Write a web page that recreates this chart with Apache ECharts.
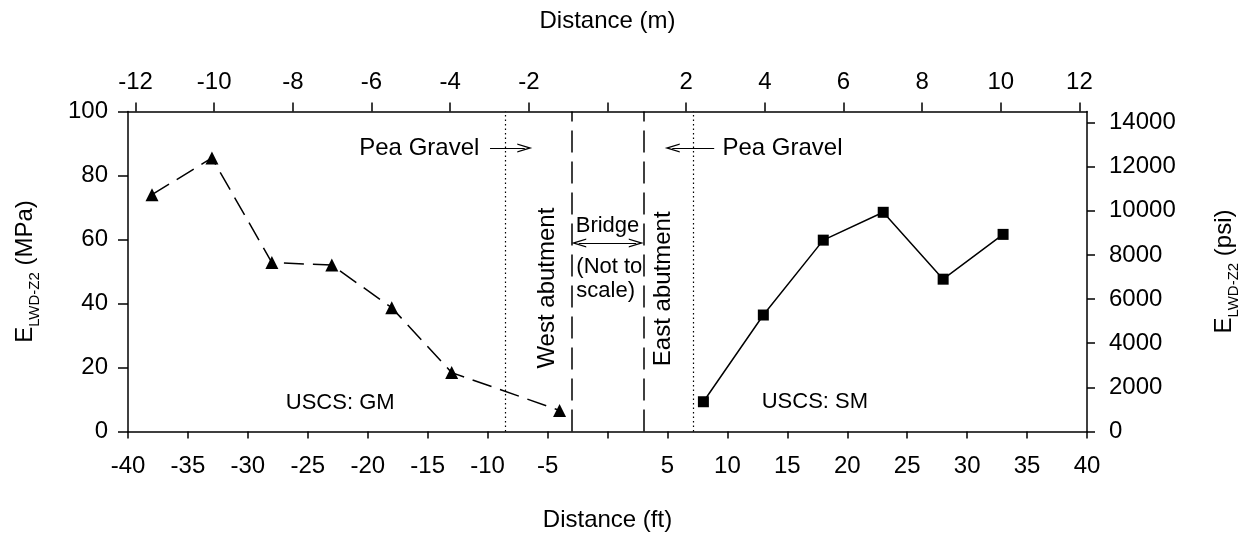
<!DOCTYPE html>
<html>
<head>
<meta charset="utf-8">
<script src="https://cdn.jsdelivr.net/npm/echarts@6/dist/echarts.min.js"></script>
<style>
html,body{margin:0;padding:0;background:#fff;}
#c{width:1250px;height:544px;}
</style>
</head>
<body>
<div id="c"></div>
<script>
// ---- data ----
const westDistFt = [-38, -33, -28, -23, -18, -13, -4];
const westE = [74.0, 85.5, 52.8, 52.0, 38.7, 18.4, 6.6];
const eastDistFt = [8, 13, 18, 23, 28, 33];
const eastE = [9.3, 36.4, 59.8, 68.5, 47.6, 61.6];
const ftTickMin = -40, ftTickMax = 40, ftTickStep = 5;
const mTicks = [-12, -10, -8, -6, -4, -2, 0, 2, 4, 6, 8, 10, 12];
const mpaTickStep = 20;
const psiTickStep = 2000;
const abutmentFt = [-3, 3];
const peaGravelEdgeFt = [-8.55, 7.15];
const FT_PER_M = 3.28084;
const PSI_PER_MPA = 145.0377;

const FONT = '"Liberation Sans", Arial, sans-serif';
const black = '#000';

const westData = westDistFt.map((x, i) => [x, westE[i]]);
const eastData = eastDistFt.map((x, i) => [x, eastE[i]]);

const chevron = 'path://M0,10 L5,0 L10,10 L8.5,10 L5,3 L1.5,10 Z';

function txt(coord, text, opts) {
  return {
    coord: coord,
    value: text,
    symbol: 'circle',
    symbolSize: 1,
    itemStyle: { color: 'rgba(0,0,0,0)' },
    label: Object.assign({
      show: true, position: 'inside', formatter: text,
      color: black, fontFamily: FONT, fontSize: 22
    }, opts || {})
  };
}

const richTitle = {
  e: { fontSize: 24, fontFamily: FONT, color: black, lineHeight: 26, verticalAlign: 'middle' },
  s: { fontSize: 15, fontFamily: FONT, color: black, lineHeight: 34, verticalAlign: 'bottom' }
};

const chart = echarts.init(document.getElementById('c'), null, { renderer: 'canvas' });
chart.setOption({
  backgroundColor: '#fff',
  animation: false,
  textStyle: { fontFamily: FONT, color: black },
  grid: { left: 128, right: 163, top: 111.5, bottom: 112.5, containLabel: false },
  xAxis: [
    {
      type: 'value', position: 'bottom',
      min: ftTickMin, max: ftTickMax, interval: ftTickStep,
      name: 'Distance (ft)', nameLocation: 'middle', nameGap: 77,
      nameTextStyle: { fontSize: 24, color: black, fontFamily: FONT },
      axisLine: { show: true, onZero: false, lineStyle: { color: black, width: 1.5 } },
      axisTick: { show: true, inside: false, length: 7, lineStyle: { color: black, width: 1.5 } },
      axisLabel: { fontSize: 24, color: black, fontFamily: FONT, margin: 23,
        formatter: v => (v === 0 ? '' : String(v)) },
      splitLine: { show: false }
    },
    {
      type: 'value', position: 'top',
      min: ftTickMin / FT_PER_M, max: ftTickMax / FT_PER_M,
      name: 'Distance (m)', nameLocation: 'middle', nameGap: 78,
      nameTextStyle: { fontSize: 24, color: black, fontFamily: FONT },
      axisLine: { show: true, onZero: false, lineStyle: { color: black, width: 1.5 } },
      axisTick: { show: true, inside: false, length: 9, customValues: mTicks, lineStyle: { color: black, width: 1.5 } },
      axisLabel: { fontSize: 24, color: black, fontFamily: FONT, margin: 17,
        customValues: mTicks.filter(v => v !== 0), formatter: v => String(v) },
      splitLine: { show: false }
    }
  ],
  yAxis: [
    {
      type: 'value', position: 'left',
      min: 0, max: 100, interval: mpaTickStep,
      name: '{e|E}{s|LWD-Z2}{e| (MPa)}', nameLocation: 'middle', nameGap: 86, nameRotate: 90,
      nameTextStyle: { color: black, fontFamily: FONT, rich: richTitle },
      axisLine: { show: true, onZero: false, lineStyle: { color: black, width: 1.5 } },
      axisTick: { show: true, inside: false, length: 10, lineStyle: { color: black, width: 1.5 } },
      axisLabel: { fontSize: 24, color: black, fontFamily: FONT, margin: 20 },
      splitLine: { show: false }
    },
    {
      type: 'value', position: 'right',
      min: 0, max: 100 * PSI_PER_MPA, interval: psiTickStep,
      name: '{e|E}{s|LWD-Z2}{e| (psi)}', nameLocation: 'middle', nameGap: 120, nameRotate: 90,
      nameTextStyle: { color: black, fontFamily: FONT, rich: richTitle },
      axisLine: { show: true, onZero: false, lineStyle: { color: black, width: 1.5 } },
      axisTick: { show: true, inside: false, length: 8, lineStyle: { color: black, width: 1.5 } },
      axisLabel: { fontSize: 24, color: black, fontFamily: FONT, margin: 22, showMaxLabel: false,
        formatter: v => (v % psiTickStep === 0 ? String(v) : '') },
      splitLine: { show: false }
    }
  ],
  series: [
    {
      name: 'West', type: 'line', xAxisIndex: 0, yAxisIndex: 0,
      data: westData,
      symbol: 'triangle', symbolSize: 13,
      itemStyle: { color: black },
      lineStyle: { color: black, width: 1.5, type: [20, 9] },
      z: 5,
      markLine: {
        silent: true, animation: false,
        symbol: ['none', 'none'],
        label: { show: false },
        data: [
          { xAxis: peaGravelEdgeFt[0], lineStyle: { color: black, width: 1.2, type: [1.5, 3] } },
          { xAxis: peaGravelEdgeFt[1], lineStyle: { color: black, width: 1.2, type: [1.5, 3] } },
          { xAxis: abutmentFt[0], lineStyle: { color: black, width: 1.5, type: [22, 9] } },
          { xAxis: abutmentFt[1], lineStyle: { color: black, width: 1.5, type: [22, 9] } },
          [
            { coord: [-9.8, 88.6], symbol: 'none' },
            { coord: [-6.9, 88.6], symbol: chevron, symbolSize: [9, 15], lineStyle: { color: black, width: 1.2, type: 'solid' } }
          ],
          [
            { coord: [8.9, 88.6], symbol: 'none' },
            { coord: [5.4, 88.6], symbol: chevron, symbolSize: [9, 15], lineStyle: { color: black, width: 1.2, type: 'solid' } }
          ],
          [
            { coord: [abutmentFt[0] + 0.6, 58.9], symbol: chevron, symbolSize: [9, 15] },
            { coord: [abutmentFt[1] - 0.6, 58.9], symbol: chevron, symbolSize: [9, 15], lineStyle: { color: black, width: 1.2, type: 'solid' } }
          ]
        ]
      },
      markPoint: {
        silent: true, animation: false,
        data: [
          txt([-15.7, 88.6], 'Pea Gravel', { fontSize: 24 }),
          txt([14.6, 88.6], 'Pea Gravel', { fontSize: 24 }),
          txt([-5.0, 44.8], 'West abutment', { fontSize: 24, rotate: 90 }),
          txt([4.7, 44.6], 'East abutment', { fontSize: 24, rotate: 90 }),
          txt([0, 64.3], 'Bridge', { fontSize: 22 }),
          txt([-2.6, 47.8], '(Not to\nscale)', { fontSize: 22, align: 'left', lineHeight: 24 }),
          txt([-22.3, 8.9], 'USCS: GM', { fontSize: 22 }),
          txt([17.3, 9.2], 'USCS: SM', { fontSize: 22 })
        ]
      }
    },
    {
      name: 'East', type: 'line', xAxisIndex: 0, yAxisIndex: 0,
      data: eastData,
      symbol: 'rect', symbolSize: 11,
      itemStyle: { color: black },
      lineStyle: { color: black, width: 1.5, type: 'solid' },
      z: 5
    }
  ]
});
</script>
</body>
</html>
